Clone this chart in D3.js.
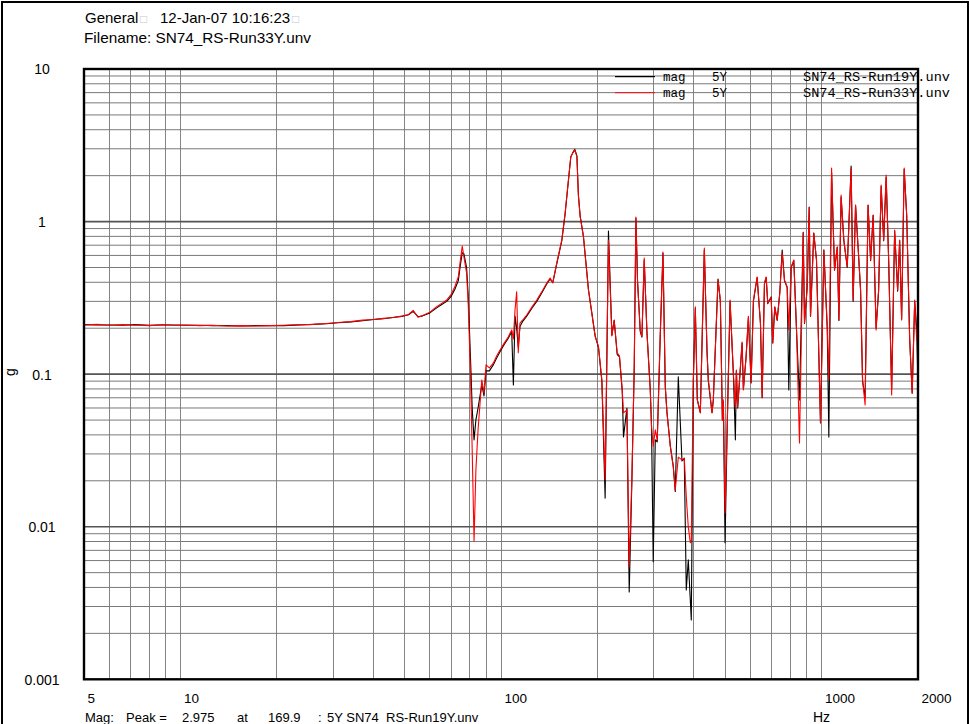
<!DOCTYPE html>
<html>
<head>
<meta charset="utf-8">
<script src="https://cdn.jsdelivr.net/npm/d3@7"></script>
<style>
  html, body { margin: 0; padding: 0; background: #fff; }
  svg { display: block; }
</style>
</head>
<body>
<svg id="chart" width="970" height="724"></svg>
<script>
// Frequency grid (Hz) shared by both measurement runs
const freqHz = [
  5.0, 5.5, 6.0, 6.6, 7.2, 8.0, 8.8, 9.5, 10.4, 11.5,
  12.6, 14.0, 15.5, 17.0, 19.0, 21.0, 23.5, 26.0, 28.5, 31.0,
  34.0, 37.0, 40.0, 43.0, 46.0, 49.0, 51.5, 53.2, 55.1, 57.0,
  60.0, 63.0, 65.5, 67.7, 70.0, 71.8, 73.6, 74.5, 75.7, 76.6,
  78.1, 79.0, 80.4, 81.3, 82.4, 83.5, 84.8, 87.1, 88.5, 89.8,
  92.0, 94.6, 97.0, 99.3, 102.0, 105.4, 108.0, 109.3, 110.6, 111.9,
  113.2, 114.6, 116.9, 120.3, 125.0, 129.3, 134.0, 138.9, 142.3, 145.1,
  149.3, 154.8, 158.5, 162.3, 165.1, 167.5, 169.9, 172.5, 174.4, 176.6,
  180.8, 187.4, 196.7, 201.4, 206.4, 211.3, 216.4, 221.8, 225.5, 230.4,
  234.2, 238.9, 241.1, 247.1, 251.2, 256.1, 260.4, 263.6, 266.7, 271.9,
  275.2, 279.8, 285.3, 292.2, 294.9, 298.5, 302.9, 307.2, 314.0, 320.1,
  325.5, 329.5, 337.4, 344.7, 349.7, 357.4, 367.0, 373.1, 378.5, 384.0,
  389.6, 392.4, 398.1, 403.9, 409.7, 418.7, 430.9, 439.4, 443.5, 455.4,
  459.7, 475.5, 483.5, 490.5, 494.0, 500.1, 508.4, 518.4, 530.9, 538.6,
  542.5, 547.5, 565.2, 570.5, 581.7, 591.4, 603.0, 613.1, 629.7, 644.9,
  652.8, 663.7, 671.9, 679.7, 696.5, 704.5, 714.8, 727.2, 740.9, 753.9,
  766.4, 781.4, 790.5, 804.3, 819.5, 835.6, 853.8, 876.7, 885.0, 902.2,
  915.4, 924.0, 946.0, 964.6, 992.8, 1017, 1042, 1054, 1075, 1098,
  1120, 1133, 1151, 1174, 1203, 1237, 1255, 1277, 1305, 1324,
  1343, 1368, 1397, 1423, 1449, 1480, 1507, 1535, 1563, 1591,
  1620, 1655, 1691, 1728, 1753, 1778, 1811, 1844, 1884, 1918,
  1953, 1981, 2000
];

// Magnitude (g), run 19Y (black)
const run19Y = [
  0.211, 0.210, 0.210, 0.209, 0.211, 0.209, 0.210, 0.210, 0.209, 0.209,
  0.208, 0.208, 0.207, 0.208, 0.208, 0.208, 0.210, 0.212, 0.214, 0.217,
  0.220, 0.224, 0.228, 0.231, 0.235, 0.239, 0.245, 0.258, 0.238, 0.241,
  0.252, 0.272, 0.287, 0.300, 0.325, 0.360, 0.410, 0.500, 0.625, 0.615,
  0.500, 0.330, 0.120, 0.060, 0.0371, 0.0501, 0.060, 0.085, 0.072, 0.105,
  0.105, 0.115, 0.128, 0.140, 0.155, 0.172, 0.190, 0.085, 0.240, 0.200,
  0.150, 0.205, 0.222, 0.240, 0.272, 0.300, 0.340, 0.390, 0.420, 0.400,
  0.530, 0.750, 1.120, 1.850, 2.650, 2.830, 2.975, 2.700, 1.500, 1.090,
  0.800, 0.360, 0.178, 0.150, 0.090, 0.0154, 0.868, 0.180, 0.225, 0.135,
  0.130, 0.078, 0.0388, 0.060, 0.00374, 0.020, 0.108, 1.050, 0.410, 0.190,
  0.175, 0.560, 0.190, 0.080, 0.045, 0.00589, 0.0371, 0.036, 0.180, 0.620,
  0.083, 0.056, 0.034, 0.025, 0.0170, 0.0959, 0.027, 0.028, 0.00385, 0.00606,
  0.00331, 0.00245, 0.090, 0.270, 0.068, 0.056, 0.650, 0.140, 0.090, 0.056,
  0.068, 0.420, 0.300, 0.050, 0.066, 0.00785, 0.050, 0.300, 0.100, 0.0371,
  0.105, 0.060, 0.160, 0.080, 0.130, 0.235, 0.088, 0.300, 0.430, 0.215,
  0.070, 0.390, 0.430, 0.290, 0.320, 0.160, 0.275, 0.225, 0.340, 0.650,
  0.410, 0.370, 0.0788, 0.500, 0.555, 0.195, 0.0678, 0.850, 0.215, 0.370,
  1.240, 0.240, 0.840, 0.560, 0.048, 0.650, 0.200, 0.0388, 2.100, 0.480,
  0.680, 0.225, 1.450, 0.750, 0.500, 2.314, 0.300, 1.280, 0.600, 0.355,
  0.090, 0.070, 1.280, 0.555, 1.100, 0.200, 0.350, 1.700, 0.750, 1.950,
  0.555, 0.080, 0.870, 0.350, 0.750, 0.230, 2.200, 1.100, 0.170, 0.075,
  0.300, 0.200, 0.085
];

// Magnitude (g), run 33Y (red)
const run33Y = [
  0.210, 0.212, 0.209, 0.211, 0.210, 0.208, 0.211, 0.209, 0.210, 0.208,
  0.209, 0.207, 0.208, 0.207, 0.208, 0.209, 0.211, 0.212, 0.215, 0.218,
  0.221, 0.226, 0.228, 0.232, 0.235, 0.240, 0.246, 0.262, 0.236, 0.242,
  0.255, 0.277, 0.292, 0.306, 0.335, 0.375, 0.435, 0.536, 0.692, 0.589,
  0.461, 0.293, 0.0916, 0.0319, 0.00807, 0.0236, 0.0431, 0.0916, 0.075, 0.115,
  0.110, 0.118, 0.132, 0.144, 0.158, 0.176, 0.195, 0.170, 0.263, 0.347,
  0.138, 0.216, 0.2265, 0.244, 0.276, 0.306, 0.346, 0.396, 0.427, 0.396,
  0.536, 0.758, 1.139, 1.873, 2.663, 2.815, 2.950, 2.663, 1.456, 1.077,
  0.796, 0.356, 0.176, 0.152, 0.0916, 0.0203, 0.758, 0.178, 0.2265, 0.1377,
  0.132, 0.0788, 0.0557, 0.0583, 0.00545, 0.0212, 0.111, 1.072, 0.402, 0.195,
  0.176, 0.577, 0.187, 0.0788, 0.0451, 0.0337, 0.0431, 0.0371, 0.187, 0.632,
  0.0825, 0.0557, 0.0337, 0.0247, 0.0174, 0.0286, 0.0274, 0.0282, 0.0157, 0.00997,
  0.00785, 0.00819, 0.0916, 0.276, 0.0678, 0.0557, 0.671, 0.1377, 0.0916, 0.0557,
  0.0678, 0.414, 0.306, 0.0501, 0.0678, 0.0123, 0.0501, 0.306, 0.1018, 0.0610,
  0.1065, 0.0610, 0.1626, 0.0788, 0.1296, 0.2392, 0.0876, 0.306, 0.4335, 0.2165,
  0.0709, 0.396, 0.4335, 0.293, 0.3205, 0.1601, 0.276, 0.2265, 0.3404, 0.6226,
  0.414, 0.3727, 0.195, 0.5042, 0.560, 0.195, 0.0354, 0.842, 0.2165, 0.3727,
  1.246, 0.2392, 0.842, 0.560, 0.0479, 0.652, 0.2038, 0.0916, 2.245, 0.482,
  0.682, 0.2265, 1.494, 0.758, 0.504, 2.245, 0.306, 1.285, 0.604, 0.356,
  0.0916, 0.0628, 1.285, 0.560, 1.105, 0.195, 0.356, 1.738, 0.758, 2.020,
  0.560, 0.0731, 0.881, 0.356, 0.758, 0.2265, 2.245, 1.105, 0.1675, 0.0753,
  0.306, 0.1675, 0.195
];

const xTickValues = [5, 10, 100, 1000, 2000];
const xTickLabels = ["5", "10", "100", "1000", "2000"];
const yTickValues = [10, 1, 0.1, 0.01, 0.001];
const yTickLabels = ["10", "1", "0.1", "0.01", "0.001"];

const legendRows = [
  { type: "mag", channel: "5Y", file: "SN74_RS-Run19Y.unv", color: "#000000" },
  { type: "mag", channel: "5Y", file: "SN74_RS-Run33Y.unv", color: "#ff0000" }
];

const headerTitle = "General";
const headerDate = "12-Jan-07 10:16:23";
const headerFile = "Filename: SN74_RS-Run33Y.unv";
const peakValue = 2.975;
const peakFreq = 169.9;
const footerParts = ["Mag:", "Peak =", peakValue.toFixed(3), "at", peakFreq.toFixed(1), ":", "5Y SN74_RS-Run19Y.unv"];

// ---------------------------------------------------------------
const svg = d3.select("#chart");
const sans = "'Liberation Sans', Arial, Helvetica, sans-serif";
const mono = "'Liberation Mono', 'Courier New', monospace";

const plot = { left: 84, right: 918, top: 69, bottom: 679.3 };

const x = d3.scaleLog().domain([5, 2000]).range([plot.left, plot.right]);
const y = d3.scaleLog().domain([0.001, 10]).range([plot.bottom, plot.top]);

// outer frame of the sheet
svg.append("rect")
  .attr("x", 2).attr("y", 2).attr("width", 966).attr("height", 760)
  .attr("fill", "none").attr("stroke", "#000").attr("stroke-width", 2);

// grid
const grid = svg.append("g");
const isDecade = v => Math.abs(Math.log10(v) - Math.round(Math.log10(v))) < 1e-9;

grid.selectAll("line.vx")
  .data(x.ticks().filter(v => v > 5 && v < 2000))
  .join("line")
  .attr("x1", d => x(d)).attr("x2", d => x(d))
  .attr("y1", plot.top).attr("y2", plot.bottom)
  .attr("stroke", "#858585").attr("stroke-width", 1)
  .attr("shape-rendering", "crispEdges");

grid.selectAll("line.hy")
  .data(y.ticks().filter(v => v > 0.001 && v < 10))
  .join("line")
  .attr("x1", plot.left).attr("x2", plot.right)
  .attr("y1", d => y(d)).attr("y2", d => y(d))
  .attr("stroke", d => isDecade(d) ? "#555" : "#7a7a7a")
  .attr("stroke-width", d => isDecade(d) ? 1.6 : 1);

// data lines
const points = vals => freqHz.map((f, i) => [f, vals[i]]);
const line = d3.line().x(d => x(d[0])).y(d => y(d[1]));

svg.append("clipPath").attr("id", "plotClip")
  .append("rect")
  .attr("x", plot.left).attr("y", plot.top)
  .attr("width", plot.right - plot.left).attr("height", plot.bottom - plot.top);

const curves = svg.append("g").attr("clip-path", "url(#plotClip)");
curves.append("path")
  .attr("d", line(points(run19Y)))
  .attr("fill", "none").attr("stroke", "#000").attr("stroke-width", 1.1)
  .attr("stroke-linejoin", "round");
curves.append("path")
  .attr("d", line(points(run33Y)))
  .attr("fill", "none").attr("stroke", "#ff0000").attr("stroke-width", 1.1)
  .attr("stroke-linejoin", "round");

// plot border
svg.append("rect")
  .attr("x", plot.left).attr("y", plot.top)
  .attr("width", plot.right - plot.left).attr("height", plot.bottom - plot.top)
  .attr("fill", "none").attr("stroke", "#000").attr("stroke-width", 2.4);

// x axis labels
const xAxis = d3.axisBottom(x).tickValues(xTickValues)
  .tickFormat((d, i) => xTickLabels[i]).tickSize(0);
const gx = svg.append("g").attr("transform", `translate(0,${plot.bottom})`).call(xAxis);
gx.select(".domain").remove();
gx.selectAll("text")
  .attr("y", 24).attr("dy", null).attr("x", 3)
  .attr("text-anchor", "start")
  .attr("fill", "#000")
  .style("font-family", sans).style("font-size", "13.5px");

// y axis labels
const yAxis = d3.axisLeft(y).tickValues(yTickValues)
  .tickFormat((d, i) => yTickLabels[i]).tickSize(0);
const gy = svg.append("g").attr("transform", `translate(${plot.left},0)`).call(yAxis);
gy.select(".domain").remove();
gy.selectAll("text")
  .attr("x", -42).attr("dy", "0.35em")
  .attr("text-anchor", "middle")
  .attr("fill", "#000")
  .style("font-family", sans).style("font-size", "14px");

// axis titles
svg.append("text")
  .attr("transform", "translate(15,372) rotate(-90)")
  .attr("text-anchor", "middle")
  .style("font-family", sans).style("font-size", "14px")
  .text("g");
svg.append("text")
  .attr("x", 813).attr("y", 722)
  .style("font-family", sans).style("font-size", "14px")
  .text("Hz");

// header
const h1 = svg.append("text").attr("y", 23)
  .style("font-family", sans).style("font-size", "15px");
h1.append("tspan").attr("x", 85).text(headerTitle);
h1.append("tspan").attr("x", 140).attr("fill", "#c8c8c8").style("font-size", "12px").text("\u25A1");
h1.append("tspan").attr("x", 160).text(headerDate);
h1.append("tspan").attr("x", 292).attr("fill", "#c8c8c8").style("font-size", "12px").text("\u25A1");

svg.append("text").attr("x", 84).attr("y", 43)
  .attr("textLength", 227).attr("lengthAdjust", "spacingAndGlyphs")
  .style("font-family", sans).style("font-size", "15px")
  .text(headerFile);

// legend
const legend = svg.append("g");
legendRows.forEach((r, i) => {
  const ly = 76.7 + i * 16;
  legend.append("line")
    .attr("x1", 615).attr("x2", 655).attr("y1", ly).attr("y2", ly)
    .attr("stroke", r.color).attr("stroke-width", 1.2)
    .attr("stroke-opacity", i === 1 ? 0.75 : 1);
  const t = legend.append("text").attr("y", ly + 3.8)
    .style("font-family", mono).style("font-size", "12.5px").attr("fill", "#000");
  t.append("tspan").attr("x", 663).text(r.type);
  t.append("tspan").attr("x", 712).text(r.channel);
  t.append("tspan").attr("x", 803).attr("textLength", 147).attr("lengthAdjust", "spacingAndGlyphs").text(r.file);
});

// footer with the peak readout
const footX = [85, 126, 182, 237, 268, 318, 327];
const ft = svg.append("text").attr("y", 722)
  .style("font-family", sans).style("font-size", "13px");
footerParts.forEach((p, i) => ft.append("tspan").attr("x", footX[i]).text(p));
</script>
</body>
</html>
